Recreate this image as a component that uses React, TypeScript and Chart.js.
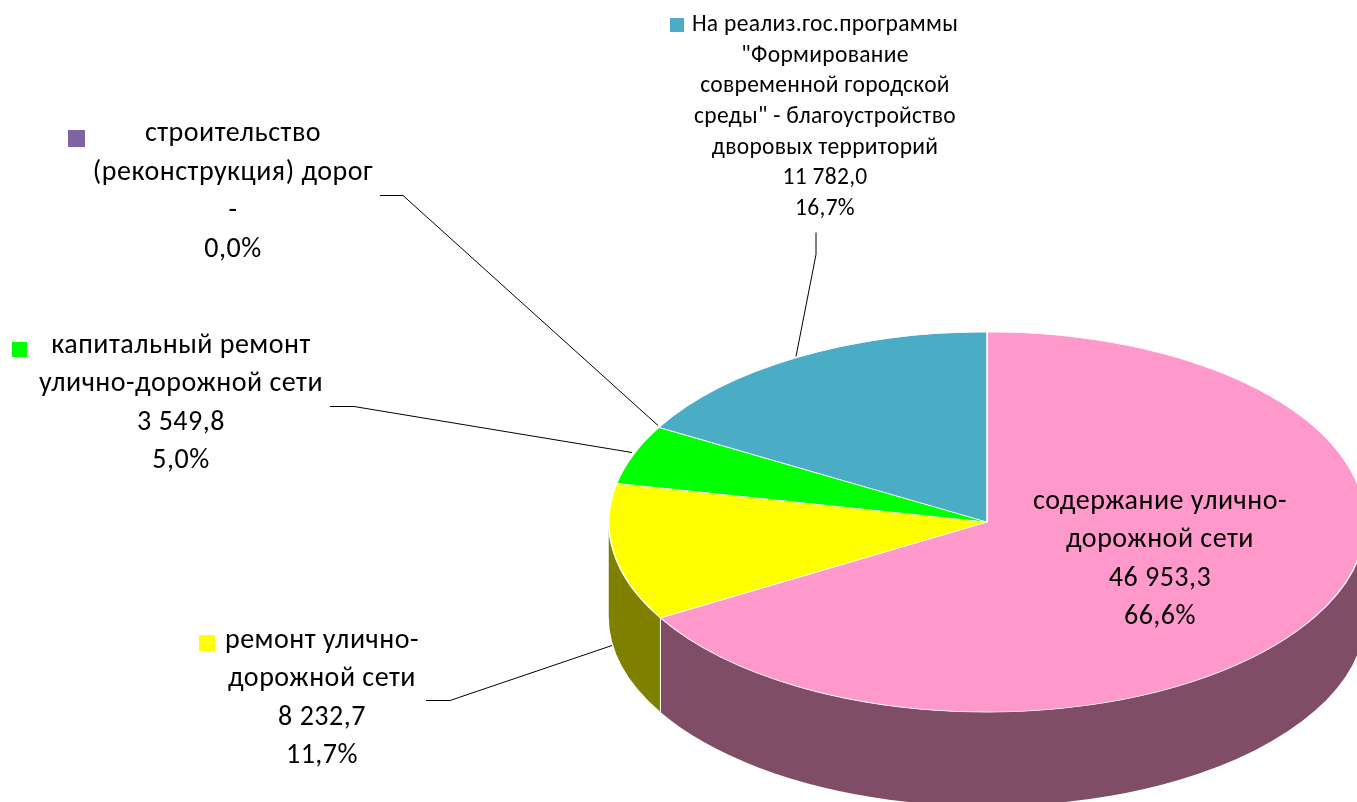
import React, { useEffect, useRef } from "react";
import { Chart, registerables } from "chart.js";

Chart.register(...registerables);

const categories = [
  "содержание улично-дорожной сети",
  "ремонт улично-дорожной сети",
  "капитальный ремонт улично-дорожной сети",
  "строительство (реконструкция) дорог",
  "На реализ.гос.программы \"Формирование современной городской среды\" - благоустройство дворовых территорий",
];
const values = [46953.3, 8232.7, 3549.8, 0, 11782.0];
const valueLabels = ["46 953,3", "8 232,7", "3 549,8", "-", "11 782,0"];
const percentLabels = ["66,6%", "11,7%", "5,0%", "0,0%", "16,7%"];
const nameLines = [
  ["содержание улично-", "дорожной сети"],
  ["ремонт улично-", "дорожной сети"],
  ["капитальный ремонт", "улично-дорожной сети"],
  ["строительство", "(реконструкция) дорог"],
  ["На реализ.гос.программы", "\"Формирование", "современной городской", "среды\" - благоустройство", "дворовых территорий"],
];
const topColors = ["#FF99CC", "#FFFF00", "#00FF00", "#8064A2", "#4BACC6"];
const sideColors = ["#804D66", "#808000", "#008000", "#403251", "#265663"];

const FONT = '"Carlito", Lato, "Open Sans", sans-serif';
const CX = 987;
const CY = 522;
const YSCALE = 0.5026;
const DEPTH = 94;
const CHART_CY = 401;

const labelLayout = [
  { x: 1160, y: 502, lh: 38.3, size: 28, sp: 0.5 },
  { x: 322, y: 641, lh: 38.3, size: 28, sp: 0.5 },
  { x: 181, y: 346, lh: 38.3, size: 28, sp: 0.5 },
  { x: 233, y: 134, lh: 38.5, size: 28, sp: 0.5 },
  { x: 825, y: 25, lh: 30.7, size: 23.5, sp: 0.3 },
];
const swatches = [
  null,
  { x: 199, y: 635, s: 16 },
  { x: 12, y: 342, s: 15 },
  { x: 68, y: 130, s: 17 },
  { x: 670, y: 18, s: 14 },
];
const leaders = [
  null,
  [[426, 700], [450, 700], [612, 645]],
  [[330, 406], [354, 406], [632, 452]],
  [[380, 195], [403, 195], [658, 425]],
  [[816, 232], [816, 254], [796, 356]],
];

const pie3d = {
  id: "pie3d",
  beforeDatasetsDraw(chart: any) {
    const { ctx } = chart;
    const arcs = chart.getDatasetMeta(0).data;
    ctx.save();
    arcs.forEach((arc: any, i: number) => {
      const r = arc.outerRadius;
      const ry = r * YSCALE;
      const a = Math.max(arc.startAngle, 0);
      const b = Math.min(arc.endAngle, Math.PI);
      if (b <= a) return;
      ctx.beginPath();
      ctx.ellipse(CX, CY, r, ry, 0, a, b, false);
      ctx.ellipse(CX, CY + DEPTH, r, ry, 0, b, a, true);
      ctx.closePath();
      ctx.fillStyle = sideColors[i];
      ctx.fill();
    });
    arcs.forEach((arc: any) => {
      const e = arc.endAngle;
      if (e > 0 && e < Math.PI) {
        const px = CX + Math.cos(e) * arc.outerRadius;
        const py = CY + Math.sin(e) * arc.outerRadius * YSCALE;
        ctx.beginPath();
        ctx.moveTo(px, py);
        ctx.lineTo(px, py + DEPTH);
        ctx.strokeStyle = "#FFFFFF";
        ctx.lineWidth = 1;
        ctx.stroke();
      }
    });
    ctx.restore();
    ctx.save();
    ctx.translate(0, CY);
    ctx.scale(1, YSCALE);
    ctx.translate(0, -CHART_CY);
  },
  afterDatasetsDraw(chart: any) {
    const { ctx } = chart;
    ctx.restore();
    ctx.save();
    ctx.strokeStyle = "#000000";
    ctx.lineWidth = 1;
    leaders.forEach((pts) => {
      if (!pts) return;
      ctx.beginPath();
      pts.forEach((p, j) => (j ? ctx.lineTo(p[0], p[1] + 0.5) : ctx.moveTo(p[0], p[1] + 0.5)));
      ctx.stroke();
    });
    swatches.forEach((s, i) => {
      if (!s) return;
      ctx.fillStyle = topColors[i];
      ctx.fillRect(s.x, s.y, s.s, s.s);
    });
    ctx.fillStyle = "#000000";
    ctx.textAlign = "center";
    ctx.textBaseline = "middle";
    labelLayout.forEach((l, i) => {
      ctx.font = `${l.size}px ${FONT}`;
      (ctx as any).letterSpacing = `${l.sp}px`;
      const lines = [...nameLines[i], valueLabels[i], percentLabels[i]];
      lines.forEach((t, k) => ctx.fillText(t, l.x, l.y + k * l.lh));
    });
    ctx.restore();
  },
};

export default function App() {
  const ref = useRef<HTMLCanvasElement>(null);
  useEffect(() => {
    document.body.style.margin = "0";
    document.body.style.overflow = "hidden";
    const chart = new Chart(ref.current!, {
      type: "pie",
      data: {
        labels: categories,
        datasets: [
          {
            data: values,
            backgroundColor: topColors,
            borderColor: "#FFFFFF",
            borderWidth: 1.5,
            hoverOffset: 0,
          },
        ],
      },
      options: {
        responsive: false,
        animation: false,
        events: [],
        layout: { padding: { left: 608, right: 34, top: 22, bottom: 22 } },
        plugins: { legend: { display: false }, tooltip: { enabled: false } },
      },
      plugins: [pie3d],
    });
    return () => chart.destroy();
  }, []);
  return (
    <div style={{ width: 1357, height: 802, overflow: "hidden", background: "#fff" }}>
      <canvas ref={ref} width={1400} height={802} style={{ display: "block" }} />
    </div>
  );
}
